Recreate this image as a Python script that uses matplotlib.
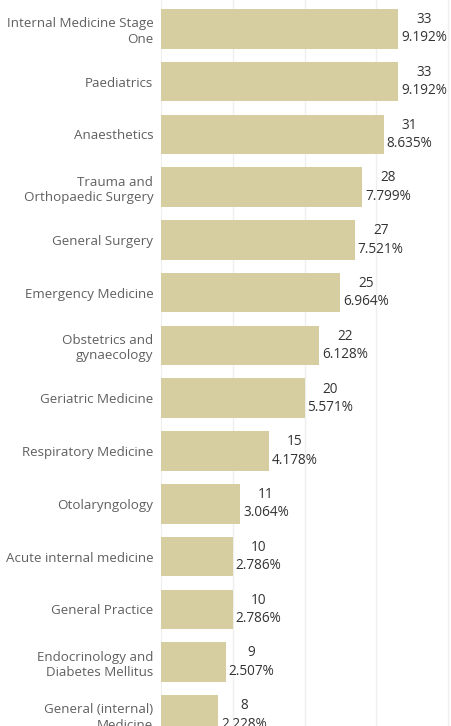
import matplotlib

matplotlib.use("Agg")
import matplotlib.pyplot as plt
from matplotlib.transforms import offset_copy

# --- data ---
SPECIALTIES = [
    "Internal Medicine Stage\nOne",
    "Paediatrics",
    "Anaesthetics",
    "Trauma and\nOrthopaedic Surgery",
    "General Surgery",
    "Emergency Medicine",
    "Obstetrics and\ngynaecology",
    "Geriatric Medicine",
    "Respiratory Medicine",
    "Otolaryngology",
    "Acute internal medicine",
    "General Practice",
    "Endocrinology and\nDiabetes Mellitus",
    "General (internal)\nMedicine",
]
COUNTS = [33, 33, 31, 28, 27, 25, 22, 20, 15, 11, 10, 10, 9, 8]
PCTS = [9.192, 9.192, 8.635, 7.799, 7.521, 6.964, 6.128, 5.571,
        4.178, 3.064, 2.786, 2.786, 2.507, 2.228]

# --- style ---
BAR = "#d6cda0"
LABEL = "#606060"
VALUE = "#333333"
GRID = "#efefef"

plt.rcParams["font.family"] = ["Open Sans", "DejaVu Sans"]

fig = plt.figure(figsize=(4.51, 7.26), dpi=100)
fig.patch.set_facecolor("white")
ax = fig.add_axes([161 / 451, 0, 290 / 451, 1])

y = list(range(len(COUNTS)))
ax.barh(y, COUNTS, height=0.75, color=BAR, zorder=3)

# value labels: count over percentage, just right of the bar end
lbl_tr = offset_copy(ax.transData, fig=fig, x=3, y=0, units="dots")
for yi, c, p in zip(y, COUNTS, PCTS):
    ax.text(c, yi, f"{c}\n{p:.3f}%", transform=lbl_tr, ha="left", va="center",
            multialignment="center", color=VALUE, fontsize=9.8, linespacing=1.3)

ax.set_xlim(0, 40.4)
ax.set_ylim(13.21, -0.546)
ax.set_xticks([10, 20, 30, 40])
ax.grid(axis="x", color=GRID, lw=1, zorder=0)
ax.set_axisbelow(True)
ax.tick_params(axis="x", bottom=False, labelbottom=False)
ax.tick_params(axis="y", left=False, pad=2)
ax.set_yticks(y)
ax.set_yticklabels(SPECIALTIES, color=LABEL, fontsize=9.6, linespacing=1.25)
for s in ("top", "right", "bottom"):
    ax.spines[s].set_visible(False)
ax.spines["left"].set_color(GRID)

fig.savefig("out.png", dpi=100, facecolor="white")
